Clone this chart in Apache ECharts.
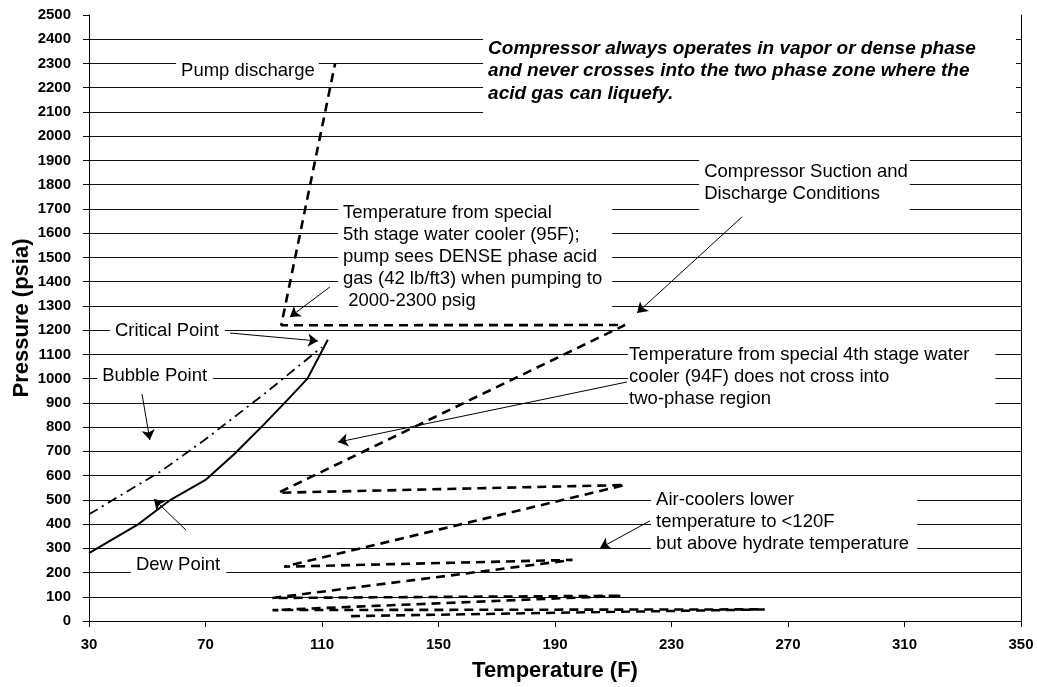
<!DOCTYPE html>
<html><head><meta charset="utf-8">
<script src="https://cdn.jsdelivr.net/npm/echarts@6/dist/echarts.min.js"></script>
<style>html,body{margin:0;padding:0;background:#fff}#c{width:1037px;height:687px}</style>
</head><body><div id="c"></div>
<script>
// ---- data ----
const xTicks = [30, 70, 110, 150, 190, 230, 270, 310, 350];
const dewPointT = [30, 47, 58, 70, 80, 90, 98, 105, 112];
const dewPointP = [280, 400, 500, 582, 690, 810, 910, 1000, 1160];
const bubblePointT = [30, 55, 70, 90, 110];
const bubblePointP = [440, 620, 750, 935, 1130];
const compressorT = [120, 262, 93, 213, 93, 196, 97, 214, 95, 214, 96, 114.5];
const compressorP = [20, 48, 45, 104, 95, 252, 224, 561, 529, 1221, 1220, 2300];

// annotation texts (anchor = [temperature, pressure] of box left / vertical middle)
const noteTexts = [
  'Pump discharge',
  'Compressor always operates in vapor or dense phase\nand never crosses into the two phase zone where the\nacid gas can liquefy.',
  'Compressor Suction and\nDischarge Conditions',
  'Temperature from special\n5th stage water cooler (95F);\npump sees DENSE phase acid\ngas (42 lb/ft3) when pumping to\n 2000-2300 psig',
  'Critical Point',
  'Bubble Point',
  'Temperature from special 4th stage water\ncooler (94F) does not cross into\ntwo-phase region',
  'Air-coolers lower\ntemperature to <120F\nbut above hydrate temperature',
  'Dew Point'
];
const noteAnchors = [
  [59.9, 2269], [165.3, 2269], [239.5, 1807], [115.5, 1502], [37.2, 1196],
  [32.8, 1010], [215.1, 1007], [223.0, 408], [44.4, 231]
];
const arrowFrom = [[112.7, 1378], [78.4, 1188], [48.2, 936], [63.3, 375], [214.7, 986], [254.2, 1667], [222.6, 413]];
const arrowTo   = [[99.0, 1254], [108.6, 1155], [50.9, 747], [52.3, 503], [115.5, 738], [218.2, 1271], [205.5, 301]];

// ---- chart ----
const font = "'Liberation Sans', Arial, sans-serif";
const pair = (xs, ys) => xs.map((x, i) => [x, ys[i]]);
const chart = echarts.init(document.getElementById('c'));
chart.setOption({
  animation: false,
  backgroundColor: '#fff',
  grid: { left: 89, right: 16, top: 15, bottom: 66, containLabel: false, outerBoundsMode: 'none' },
  xAxis: {
    type: 'value', min: 30, max: 350,
    name: 'Temperature (F)', nameLocation: 'middle', nameGap: 39, nameMoveOverlap: false,
    nameTextStyle: { fontFamily: font, fontWeight: 'bold', fontSize: 22, color: '#000' },
    axisLine: { show: true, onZero: false, lineStyle: { color: '#000', width: 1 } },
    axisTick: { show: true, length: 6, customValues: xTicks, lineStyle: { color: '#000' } },
    axisLabel: { customValues: xTicks, fontFamily: font, fontWeight: 'bold', fontSize: 15, color: '#000', margin: 16,
      formatter: v => String(v) },
    splitLine: { show: false }
  },
  yAxis: [{
    type: 'value', min: 0, max: 2500, interval: 100,
    name: 'Pressure (psia)', nameLocation: 'middle', nameGap: 56, nameRotate: 90, nameMoveOverlap: false,
    nameTextStyle: { fontFamily: font, fontWeight: 'bold', fontSize: 22, color: '#000' },
    axisLine: { show: true, lineStyle: { color: '#000', width: 1 } },
    axisTick: { show: true, length: 6, lineStyle: { color: '#000' } },
    axisLabel: { fontFamily: font, fontWeight: 'bold', fontSize: 15, color: '#000', margin: 18,
      formatter: v => String(v) },
    splitLine: { show: true, showMaxLine: false, lineStyle: { color: '#111', width: 1 } }
  }, {
    type: 'value', position: 'right', min: 0, max: 2500,
    axisLine: { show: true, lineStyle: { color: '#000', width: 1 } },
    axisTick: { show: false }, axisLabel: { show: false }, splitLine: { show: false }
  }],
  series: [
    { type: 'line', name: 'Dew Point', data: pair(dewPointT, dewPointP), showSymbol: false, z: 5,
      lineStyle: { color: '#000', width: 2 } },
    { type: 'line', name: 'Bubble Point', data: pair(bubblePointT, bubblePointP), showSymbol: false, z: 5,
      lineStyle: { color: '#000', width: 1.8, type: [10, 5, 2, 5] } },
    { type: 'line', name: 'Compressor', data: pair(compressorT, compressorP), showSymbol: false, z: 5,
      lineStyle: { color: '#000', width: 2.6, type: [9, 6] } },
    { type: 'lines', coordinateSystem: 'cartesian2d', z: 6,
      symbol: ['none', 'arrow'], symbolSize: 10,
      lineStyle: { color: '#000', width: 1, opacity: 1 },
      data: arrowFrom.map((f, i) => ({ coords: [f, arrowTo[i]] })) }
  ]
});

// annotation boxes (white background hides gridlines)
const noteStyles = [
  { pad: [2, 4, 2, 5] },
  { pad: [8, 40, 18, 5], italic: true, lh: 22.5 },
  { pad: [13, 2, 9, 5] },
  { pad: [5, 10, 7, 5] },
  { pad: [1, 6, 1, 5] },
  { pad: [1, 6, 1, 5] },
  { pad: [2, 26, 6, 1] },
  { pad: [1, 8, 1, 5] },
  { pad: [2, 6, 2, 5] }
];
const elements = noteTexts.map((t, i) => {
  const p = chart.convertToPixel({ gridIndex: 0 }, noteAnchors[i]);
  const s = noteStyles[i];
  return {
    type: 'text', x: p[0], y: p[1], z: 1,
    style: {
      text: t, align: 'left', verticalAlign: 'middle',
      font: (s.italic ? 'italic bold 19px ' : '18.5px ') + font,
      lineHeight: s.lh || 22, fill: '#000',
      backgroundColor: '#fff', padding: s.pad
    }
  };
});
chart.setOption({ graphic: { elements } });
</script>
</body></html>
